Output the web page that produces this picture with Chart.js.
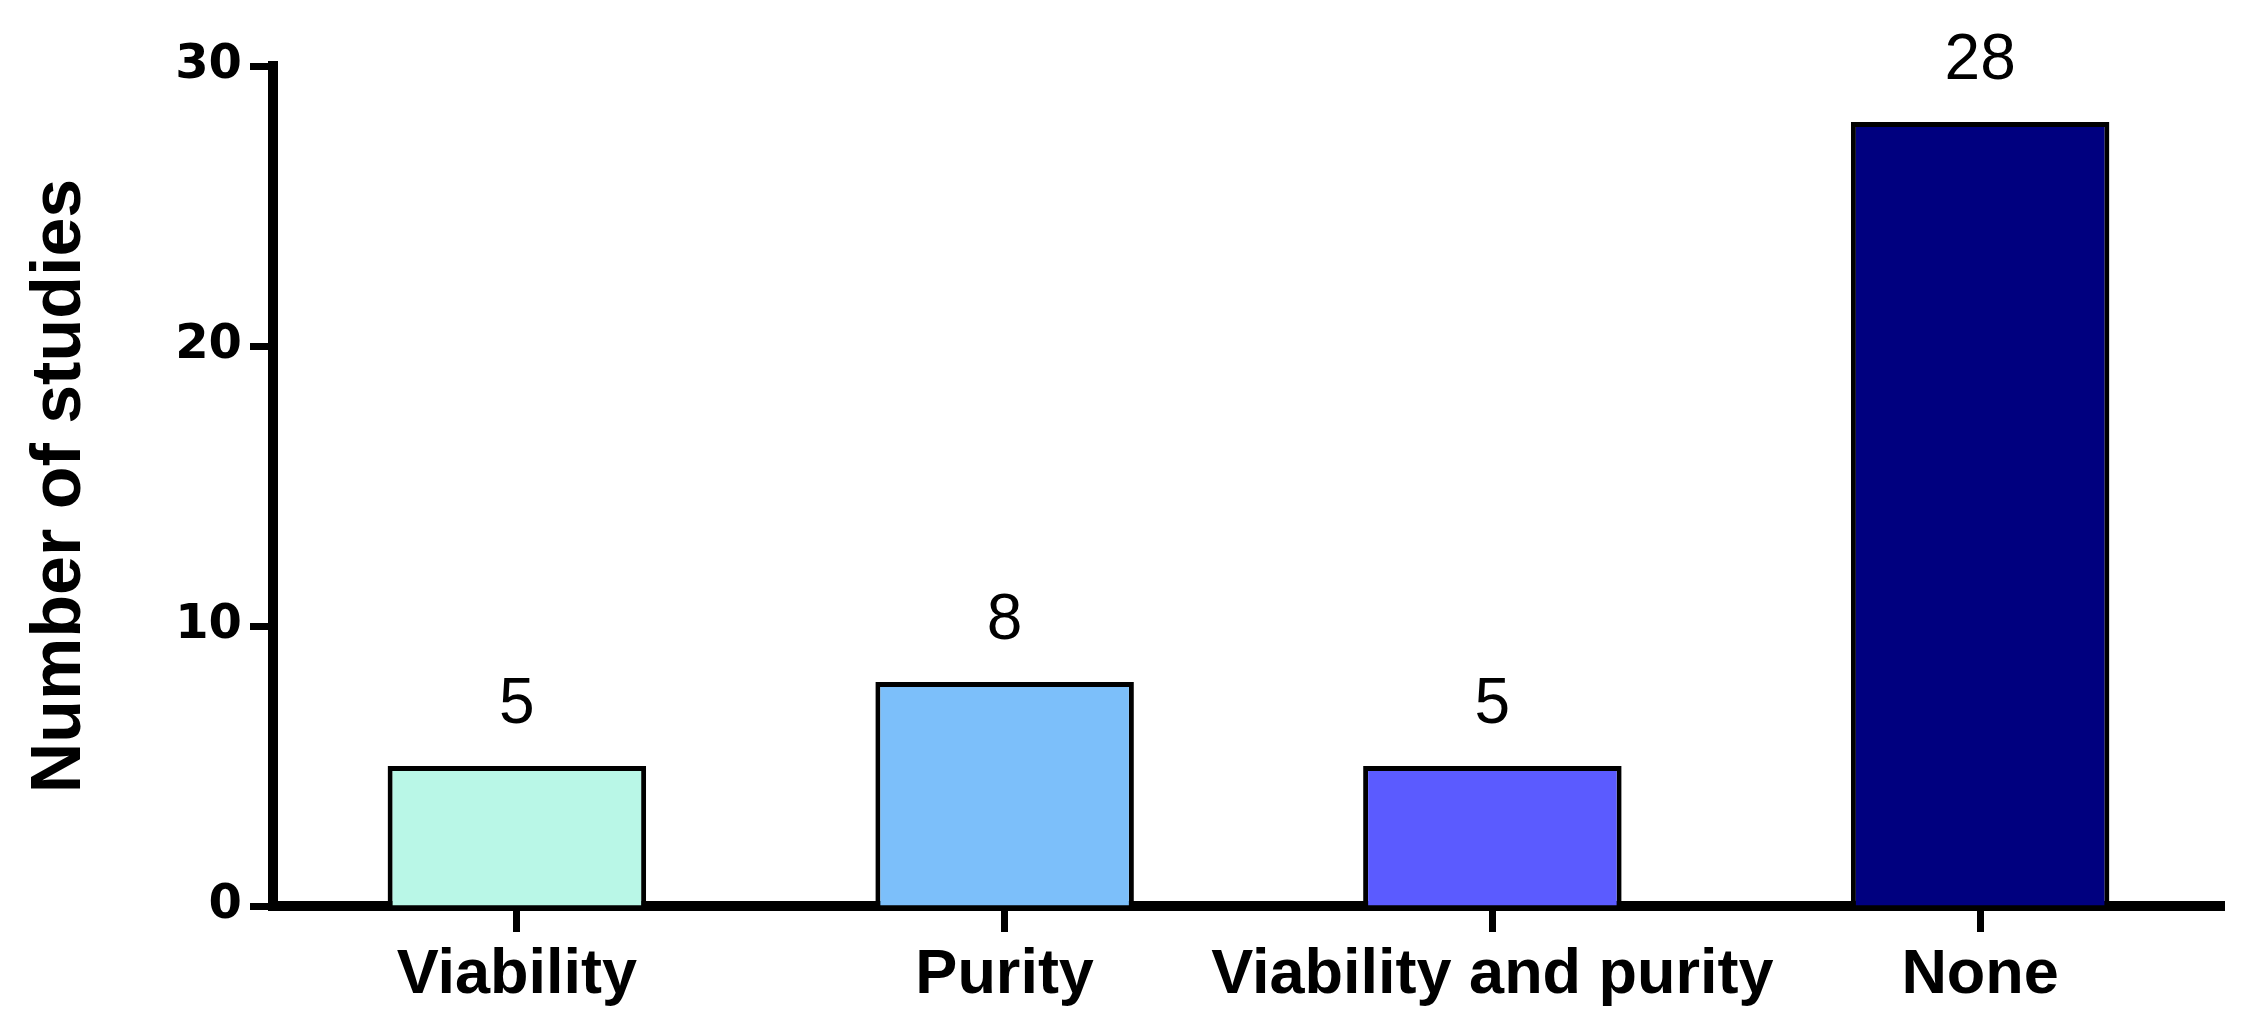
<!DOCTYPE html>
<html>
<head>
<meta charset="utf-8">
<script src="https://cdn.jsdelivr.net/npm/chart.js@4.4.0/dist/chart.umd.min.js"></script>
<style>
  html, body { margin: 0; padding: 0; background: #fff; }
  #wrap { width: 2253px; height: 1024px; }
</style>
</head>
<body>
<div id="wrap"><canvas id="studyChart" width="2253" height="1024"></canvas></div>
<script>
// chart data
const categories = ['Viability', 'Purity', 'Viability and purity', 'None'];
const studyCounts = [5, 8, 5, 28];
const barColors = ['#b9f7e7', '#7cbffa', '#5b5bff', '#00007f'];
const yTicks = [0, 10, 20, 30];

// value labels above the bars
const valueLabels = {
  id: 'valueLabels',
  afterDatasetsDraw(chart) {
    const ctx = chart.ctx;
    const meta = chart.getDatasetMeta(0);
    ctx.save();
    ctx.font = '64px "Liberation Sans", Arial, sans-serif';
    ctx.fillStyle = '#000';
    ctx.textAlign = 'center';
    ctx.textBaseline = 'alphabetic';
    meta.data.forEach((bar, i) => {
      ctx.fillText(String(studyCounts[i]), bar.x, bar.y - 43);
    });
    ctx.restore();
  }
};

const ctx = document.getElementById('studyChart');
new Chart(ctx, {
  type: 'bar',
  data: {
    labels: categories,
    datasets: [{
      data: studyCounts,
      backgroundColor: barColors,
      borderColor: '#000',
      borderWidth: 5,
      categoryPercentage: 1,
      barPercentage: 0.53
    }]
  },
  options: {
    responsive: false,
    animation: false,
    layout: { padding: { top: 66, right: 29, left: 0, bottom: 0 } },
    plugins: {
      legend: { display: false },
      tooltip: { enabled: false }
    },
    scales: {
      x: {
        offset: true,
        border: { display: true, width: 10, color: '#000' },
        grid: { display: true, drawOnChartArea: false, drawTicks: true, tickLength: 26, tickWidth: 7, tickColor: '#000', offset: false },
        ticks: {
          color: '#000',
          padding: 6,
          autoSkip: false,
          maxRotation: 0,
          font: { family: '"Liberation Sans", Arial, sans-serif', size: 63, weight: 'bold' }
        },
        afterFit: (scale) => { scale.height = 118; }
      },
      y: {
        min: 0,
        max: 30,
        afterBuildTicks: (scale) => { scale.ticks = yTicks.map(v => ({ value: v })); },
        border: { display: true, width: 10, color: '#000' },
        grid: { display: true, drawOnChartArea: false, drawTicks: true, tickLength: 23, tickWidth: 7, tickColor: '#000' },
        ticks: {
          color: '#000',
          padding: 8,
          font: { family: '"DejaVu Sans", sans-serif', size: 48, weight: 'bold' }
        },
        title: {
          display: true,
          text: 'Number of studies',
          color: '#000',
          padding: { top: 26, bottom: 0 },
          font: { family: '"Liberation Sans", Arial, sans-serif', size: 70, weight: 'bold', lineHeight: 1 }
        },
        afterFit: (scale) => { scale.width = 273; }
      }
    }
  },
  plugins: [valueLabels]
});
</script>
</body>
</html>
